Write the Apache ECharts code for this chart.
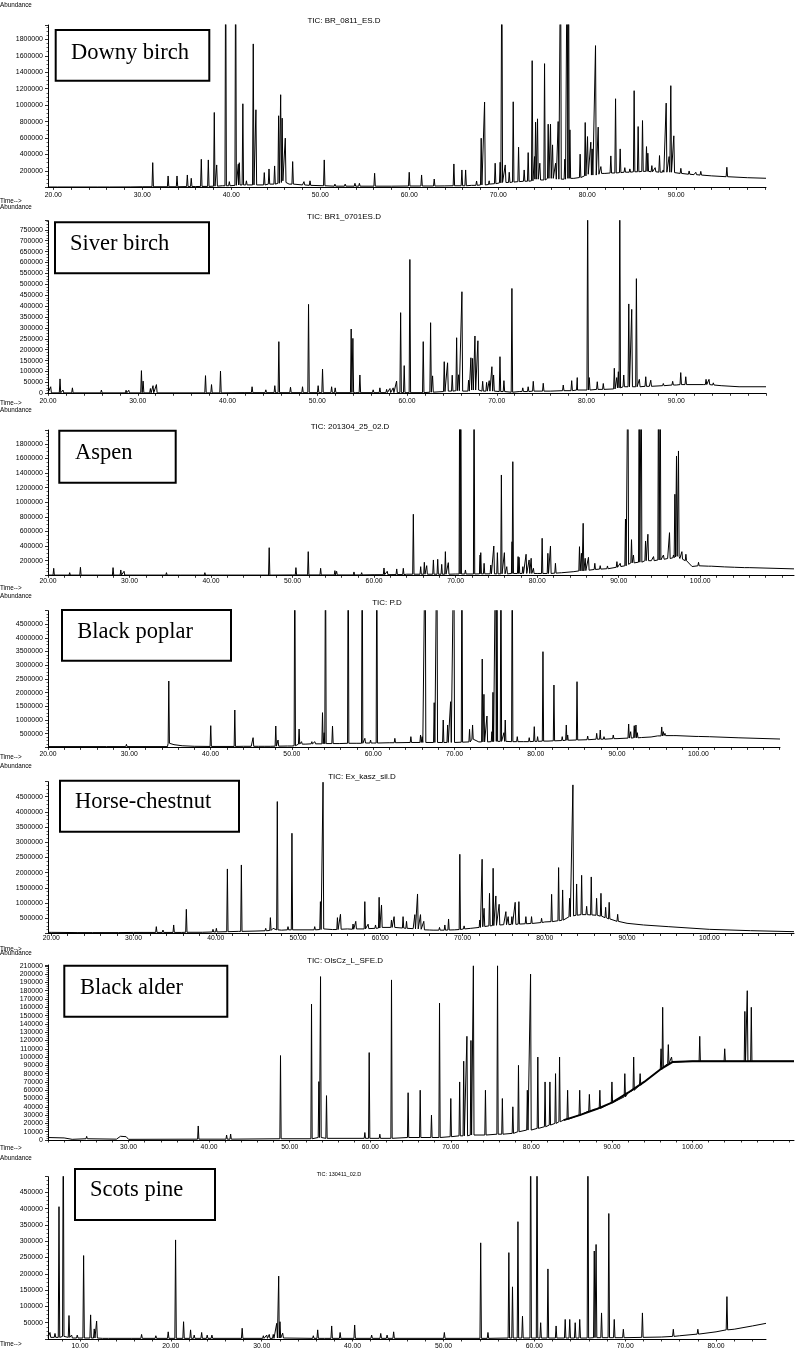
<!DOCTYPE html>
<html>
<head>
<meta charset="utf-8">
<script src="https://cdn.jsdelivr.net/npm/echarts@6/dist/echarts.min.js"></script>
<style>
html, body { margin: 0; padding: 0; background: #fff; }
#container { width: 796px; height: 1350px; }
</style>
</head>
<body>
<div id="container"></div>
<script>
// peaks are [time, top, foot], base lines are [time, abundance]

//Downy birch
var downyTimes = [20, 30, 40, 50, 60, 70, 80, 90];
var downyBase = [[19.4,5000],[25,5000],[30,8000],[36,10000],[39,20000],[42,30000],[44,35000],[46.5,40000],[48,30000],[52,15000],[58,15000],[64,18000],[67,25000],[69,40000],[71,60000],[73,75000],[76,95000],[78.5,110000],[79.5,130000],[81.5,165000],[84,180000],[86,190000],[88.5,185000],[90,175000],[92,155000],[94,140000],[96,128000],[98,118000],[100.1,111000]];
var downyPeaks = [[20.56,15000,5000],[26.4,12000,5000],[28.8,18000,6000],[31.17,301000,8000],[32.9,139000,8000],[33.9,139000,8000],[35.06,151000,10000],[35.5,111000,10000],[36.63,342000,12000],[37.42,334000,12000],[38.09,911000,15000],[38.36,273000,15000],[39.37,3000000,20000],[39.78,70000,20000],[40.49,3000000,25000],[40.79,282000,30000],[40.9,300000,30000],[41.3,1017000,30000],[41.7,80000,30000],[42.47,1745000,30000],[42.77,944000,30000],[43.71,180000,30000],[44.24,224000,40000],[44.87,261000,40000],[45.32,871000,50000],[45.55,1127000,60000],[45.72,842000,80000],[46.07,599000,60000],[46.9,314000,40000],[48.17,70000,30000],[48.85,80000,25000],[50.45,334000,20000],[51.65,40000,15000],[52.8,40000,15000],[53.9,50000,15000],[54.4,50000,15000],[56.11,172000,15000],
  [60.0,184000,17000],[61.39,151000,17000],[62.81,102000,17000],[65.02,285000,20000],[65.92,212000,20000],[66.34,212000,20000],[67.57,78000,25000],[68.09,598000,30000],[68.47,1038000,30000],[68.99,80000,35000],[69.66,294000,45000],[70.22,306000,55000],[70.41,3000000,60000],[70.79,273000,60000],[71.24,184000,60000],[71.69,1041000,65000],[72.29,489000,70000],[72.92,212000,75000],[73.37,423000,75000],[73.82,1541000,80000],[74.09,375000,100000],[74.2,794000,100000],[74.42,834000,100000],[74.68,294000,90000],[75.21,1505000,90000],[75.62,769000,110000],[75.88,769000,110000],[76.11,517000,110000],[76.45,294000,100000],[76.74,801000,100000],[77.01,3000000,100000],[77.49,343000,100000],[77.75,3000000,110000],[77.91,3000000,110000],[78.06,700000,110000],[79.21,404000,120000],[79.78,789000,140000],[80.04,618000,160000],[80.41,550000,150000],[80.56,468000,150000],[80.94,1724000,150000],[81.24,733000,160000],[81.54,253000,170000],[82.07,184000,170000],[82.66,383000,175000],[83.19,1078000,175000],[83.71,468000,180000],[84.23,240000,185000],[84.8,225000,185000],[85.28,1176000,190000],[85.73,740000,190000],[86.22,813000,195000],[86.67,496000,195000],[86.82,416000,195000],[87.27,265000,190000],[87.64,240000,190000],[88.13,387000,185000],[88.54,212000,185000],[88.88,1025000,185000],[89.21,375000,185000],[89.4,1237000,185000],[89.74,627000,180000],[90.53,232000,170000],[91.46,200000,160000],[92.21,184000,155000],[92.77,195000,150000],[95.7,245000,130000]];

//Siver birch
var silverTimes = [20, 30, 40, 50, 60, 70, 80, 90];
var silverBase = [[20,2000],[60,3000],[62,5000],[65,10000],[68,10000],[71,5000],[72.5,8000],[76,10000],[79,15000],[82,18000],[84,28000],[87,32000],[90,38000],[93,40000],[95,35000],[97,30000],[100,30000]];
var silverPeaks = [[20.3,30000,2000],[21.34,66000,2000],[21.67,15000,2000],[22.72,25000,2000],[25.95,15000,2000],[28.7,14000,2000],[29.0,14000,2000],[30.41,104000,2000],[30.6,56000,2000],[31.41,22000,2000],[31.7,35000,2000],[32.08,40000,2000],[34.68,8000,2000],[37.55,81000,2000],[38.22,40000,2000],[39.22,102000,2000],[41.93,12000,3000],[42.74,30000,3000],[44.27,16000,3000],[45.27,35000,3000],[45.72,237000,3000],[47.02,28000,3000],[48.36,30000,3000],[49.03,408000,3000],[50.1,35000,3000],[50.59,111000,3000],[51.6,30000,3000],[52.0,25000,3000],[53.78,295000,3000],[53.97,252000,3000],[54.2,12000,3000],[54.75,84000,3000],[56.23,16000,3000],[56.98,25000,3000],[57.73,18000,3000],[58.1,22000,3000],[58.46,25000,3000],[58.84,56000,3000],[59.29,370000,3000],[59.69,127000,3000],[60.32,614000,3000],[61.81,237000,3000],[62.63,324000,5000],[62.85,80000,5000],[64.15,145000,8000],[64.52,140000,10000],[65.04,83000,10000],[65.53,255000,12000],[65.75,85000,12000],[66.12,466000,10000],[66.86,60000,10000],[67.12,163000,15000],[67.31,160000,15000],[67.57,263000,15000],[67.9,241000,15000],[68.43,55000,10000],[68.87,50000,10000],[69.16,58000,10000],[69.46,122000,10000],[69.65,84000,10000],[70.36,168000,8000],[70.8,58000,8000],[71.69,481000,5000],[72.9,25000,8000],[73.5,30000,8000],[74.07,55000,10000],[75.18,46000,10000],[77.41,38000,12000],[78.35,58000,12000],[78.97,72000,15000],[80.13,900000,15000],[80.31,72000,15000],[81.2,53000,18000],[81.87,45000,18000],[83.1,115000,20000],[83.37,72000,25000],[83.55,99000,25000],[83.71,900000,25000],[84.15,84000,30000],[84.71,410000,30000],[85.04,385000,30000],[85.56,526000,30000],[85.89,64000,30000],[86.6,76000,32000],[87.16,60000,32000],[88.56,45000,35000],[89.6,55000,38000],[90.5,95000,40000],[91.06,76000,40000],[93.32,64000,40000],[93.65,64000,40000],[94.13,48000,38000]];

//Aspen
var aspenTimes = [20, 30, 40, 50, 60, 70, 80, 90, 100];
var aspenBase = [[20,3000],[50,5000],[60,8000],[64,15000],[70,18000],[80,25000],[83,35000],[84.5,50000],[86,70000],[88,90000],[90,120000],[91.5,170000],[94,200000],[96,230000],[97.5,230000],[98.5,180000],[99,120000],[101,125000],[103,115000],[106,105000],[111.5,88000]];
var aspenPeaks = [[20.7,96000,3000],[22.66,36000,3000],[23.98,110000,3000],[27.98,105000,3000],[28.93,73000,3000],[29.33,55000,3000],[34.53,36000,3000],[36.37,27000,3000],[39.24,36000,3000],[44.23,23000,3000],[47.13,378000,3000],[50.41,105000,5000],[51.92,324000,5000],[53.44,96000,5000],[55.19,64000,5000],[55.4,55000,5000],[57.53,46000,5000],[58.47,36000,5000],[61.21,100000,8000],[61.61,55000,8000],[62.77,87000,10000],[63.58,96000,10000],[64.81,836000,15000],[65.71,118000,15000],[66.16,178000,15000],[66.45,132000,15000],[67.27,210000,15000],[67.8,219000,15000],[68.29,150000,15000],[68.74,324000,15000],[69.1,173000,15000],[70.5,3000000,18000],[70.63,3000000,18000],[71.2,73000,18000],[72.26,3000000,18000],[73.0,278000,20000],[73.08,310000,20000],[73.49,164000,20000],[74.31,141000,20000],[74.68,401000,20000],[75.12,310000,20000],[75.61,1374000,20000],[75.98,310000,20000],[76.27,118000,20000],[76.92,460000,25000],[77.01,1556000,25000],[77.66,256000,25000],[77.78,246000,25000],[78.24,118000,25000],[78.64,288000,25000],[79.01,210000,25000],[79.26,233000,25000],[79.54,96000,25000],[80.61,507000,25000],[81.31,301000,25000],[81.63,401000,25000],[82.24,164000,30000],[85.19,392000,60000],[85.43,301000,60000],[85.64,712000,60000],[85.89,233000,65000],[86.29,246000,70000],[87.07,164000,80000],[87.73,132000,85000],[88.62,128000,90000],[89.78,187000,110000],[90.18,164000,120000],[90.83,771000,130000],[91.13,3000000,150000],[91.57,488000,170000],[91.81,278000,170000],[92.51,3000000,180000],[92.76,3000000,180000],[93.29,470000,200000],[93.58,562000,200000],[94.27,256000,200000],[94.88,3000000,210000],[95.09,3000000,210000],[95.49,278000,220000],[96.23,584000,230000],[96.72,278000,240000],[96.89,1110000,250000],[97.09,1634000,260000],[97.33,1703000,260000],[97.75,324000,220000],[98.24,288000,200000],[99.79,178000,130000],[101.43,141000,125000],[104.3,114000,110000],[105.53,132000,105000]];

//Black poplar
var poplarTimes = [20, 30, 40, 50, 60, 70, 80, 90, 100];
var poplarBase = [[20,30000],[34.7,30000],[35.5,100000],[36.5,60000],[38,40000],[45,40000],[50,50000],[51,130000],[55,140000],[58,150000],[62,170000],[66,180000],[71,190000],[73,200000],[78,210000],[80,220000],[84,260000],[88,300000],[90,320000],[93,360000],[95,420000],[97,430000],[100,400000],[105,350000],[110.05,306000]];
var poplarPeaks = [[27.3,40000,30000],[29.65,113000,30000],[34.86,2423000,150000],[40.02,793000,35000],[42.98,1365000,35000],[44.12,113000,40000],[45.23,355000,40000],[45.97,88000,40000],[46.67,88000,40000],[47.41,112000,40000],[48.02,781000,45000],[48.3,270000,45000],[49.54,88000,50000],[50.36,8000000,60000],[50.89,671000,120000],[51.19,209000,120000],[51.8,185000,120000],[52.46,209000,130000],[52.83,209000,130000],[53.77,1268000,130000],[53.97,537000,130000],[54.14,8000000,140000],[55.0,781000,140000],[55.9,88000,140000],[56.93,8000000,150000],[57.14,209000,150000],[58.65,8000000,150000],[58.98,331000,160000],[59.68,270000,160000],[60.0,185000,160000],[60.45,8000000,160000],[62.05,185000,170000],[62.67,331000,170000],[64.64,392000,180000],[65.83,453000,180000],[66.03,392000,180000],[66.4,8000000,180000],[67.51,1632000,180000],[67.84,8000000,180000],[68.62,1000000,180000],[69.16,818000,180000],[69.53,1668000,180000],[69.93,8000000,180000],[70.92,8000000,190000],[71.86,659000,200000],[72.23,818000,300000],[73.42,3226000,200000],[73.63,1937000,200000],[74.0,1146000,200000],[74.61,574000,210000],[74.74,2010000,210000],[75.07,8000000,220000],[75.23,8000000,220000],[75.72,8000000,220000],[76.09,537000,220000],[76.25,1000000,220000],[77.11,8000000,210000],[77.73,392000,210000],[78.55,270000,210000],[79.2,355000,210000],[79.82,757000,220000],[80.23,392000,220000],[80.89,3494000,230000],[81.59,270000,230000],[82.24,2277000,240000],[83.26,392000,250000],[83.76,818000,260000],[83.93,453000,260000],[85.08,2399000,270000],[86.39,416000,280000],[87.5,513000,300000],[87.94,635000,300000],[88.4,392000,300000],[89.54,453000,320000],[91.43,854000,340000],[91.68,574000,340000],[92.12,793000,350000],[92.33,818000,350000],[92.5,537000,350000],[94.27,416000,380000],[95.5,746000,420000],[95.7,574000,430000],[95.9,513000,430000],[97.34,489000,430000],[99.8,428000,400000],[101.44,428000,390000]];

//Horse-chestnut
var horseTimes = [20, 30, 40, 50, 60, 70, 80, 90, 100];
var horseBase = [[19.6,38000],[30,35000],[40,50000],[45,80000],[48,110000],[52,120000],[56,150000],[60,200000],[62,200000],[64,160000],[66,115000],[69,120000],[71,170000],[72.5,225000],[75,290000],[78,320000],[80,380000],[82,430000],[83,550000],[85,620000],[86.8,580000],[88,480000],[89,400000],[90,335000],[92,280000],[95,225000],[100,137000],[105,93000],[110.3,60000]];
var horsePeaks = [[20.07,82000,38000],[23.32,38000,30000],[25.06,35000,30000],[28.22,71000,30000],[32.77,225000,35000],[33.58,115000,35000],[34.88,280000,35000],[35.94,80000,35000],[36.42,795000,40000],[38.44,60000,40000],[39.66,137000,50000],[40.07,170000,50000],[41.41,2122000,60000],[42.82,80000,70000],[43.11,2253000,70000],[44.85,90000,80000],[46.07,170000,90000],[46.64,521000,100000],[46.96,170000,110000],[47.48,4337000,120000],[48.09,170000,120000],[48.78,225000,120000],[49.26,3295000,120000],[52.03,225000,120000],[52.72,1047000,130000],[53.04,4973000,150000],[54.26,140000,130000],[54.79,521000,130000],[55.16,631000,140000],[56.69,312000,140000],[57.02,400000,150000],[58.12,1047000,150000],[58.52,307000,160000],[59.42,280000,170000],[59.86,1190000,180000],[60.15,937000,200000],[61.36,444000,200000],[61.68,554000,200000],[62.77,554000,180000],[63.19,400000,170000],[64.2,620000,150000],[64.53,1299000,150000],[64.89,620000,140000],[65.29,400000,120000],[66.5,170000,110000],[67.2,200000,110000],[67.85,280000,110000],[68.3,477000,115000],[69.67,2604000,130000],[70.19,250000,150000],[72.1,444000,200000],[72.38,2440000,220000],[72.62,828000,230000],[73.28,1321000,250000],[73.72,2144000,260000],[74.05,1234000,270000],[74.45,960000,280000],[75.27,718000,290000],[75.55,554000,290000],[76.0,554000,300000],[76.4,1025000,300000],[76.85,1047000,310000],[77.7,554000,320000],[78.39,554000,330000],[79.61,500000,360000],[80.83,1288000,390000],[81.68,2166000,420000],[82.17,1431000,440000],[83.02,1157000,550000],[83.42,4885000,580000],[83.87,1628000,600000],[84.48,1913000,620000],[85.09,894000,620000],[85.65,1859000,610000],[86.3,1157000,600000],[86.83,1321000,570000],[87.4,861000,520000],[87.83,1025000,480000],[88.86,631000,400000]];

//Black alder
var alderTimes = [30, 40, 50, 60, 70, 80, 90, 100];
var alderBase = [[20,3000],[22,2500],[23,800],[28.5,1000],[29,4500],[29.7,4000],[30,800],[60,1500],[70,4000],[76,7000],[80,13000],[82,18000],[84,24000],[86,30000],[88,37000],[90,45000],[92,57000],[94,70000],[96,85000],[97.5,94000],[100,95000],[105,95000],[108,95000],[112.6,95000]];
var alderPeaks = [[24.8,4400,1500],[38.65,16900,1000],[42.17,6000,1000],[42.67,7200,1000],[48.86,101800,1500],[52.71,163800,1500],[53.62,70400,3000],[53.83,197000,3000],[54.57,53500,2000],[59.33,9000,2000],[59.87,105400,2000],[61.19,7000,2000],[62.64,193000,2000],[64.7,57000,3000],[66.2,60000,3000],[67.6,30000,3000],[68.6,165000,3000],[70.0,50000,4000],[71.1,70000,5000],[71.6,95000,5000],[72.0,125000,5000],[72.5,120000,6000],[72.8,210000,6000],[74.3,60000,6000],[75.8,210000,7000],[76.4,50000,7000],[77.7,40000,8000],[78.4,90000,10000],[79.5,60000,12000],[79.9,200000,12000],[80.8,100000,14000],[81.7,70000,16000],[82.3,70000,18000],[83.0,80000,20000],[83.5,100000,22000],[84.5,60000,25000],[86.0,60000,30000],[87.2,55000,35000],[88.5,60000,38000],[90.0,70000,45000],[91.6,80000,52000],[92.7,100000,60000],[93.5,80000,66000],[96.1,110000,85000],[96.3,160000,88000],[97.0,115000,92000],[97.4,100000,94000],[100.9,125000,95000],[104.0,110000,95000],[106.5,155000,95000],[106.8,180000,95000],[107.3,160000,95000]];

//Scots pine
var pineTimes = [10, 20, 30, 40, 50, 60, 70, 80];
var pineBase = [[6.48,5000],[9,3000],[12,2000],[45,2000],[70,4000],[74,6000],[76,10000],[78,15000],[80,22000],[82,30000],[84,40000],[85.5,48000]];
var pinePeaks = [[6.7,20000,5000],[7.25,17000,5000],[7.69,406000,5000],[8.16,700000,8000],[8.79,72000,5000],[9.08,12000,3000],[9.7,12000,3000],[10.4,256000,3000],[11.17,74000,3000],[11.57,31000,3000],[11.83,55000,3000],[12.56,8000,2000],[13.22,8000,2000],[15.79,8000,2000],[16.78,14000,2000],[18.35,10000,2000],[19.71,22000,2000],[20.52,304000,2000],[21.4,53000,2000],[22.17,28000,2000],[22.57,12000,2000],[23.39,20000,2000],[24.0,12000,2000],[24.52,12000,2000],[27.85,33000,2000],[30.18,10000,2000],[30.55,12000,2000],[30.83,14000,2000],[31.27,14000,2000],[31.65,48000,3000],[31.87,193000,3000],[32.01,53000,3000],[32.31,18000,3000],[35.68,10000,2000],[36.16,28000,2000],[36.97,8000,2000],[37.7,40000,2000],[38.63,20000,2000],[40.23,43000,2000],[42.1,12000,2000],[43.1,17000,2000],[43.8,12000,2000],[44.52,22000,2000],[50.1,20000,2000],[54.1,295000,2000],[54.9,20000,2000],[57.2,265000,3000],[57.6,160000,3000],[58.2,360000,3000],[58.7,70000,3000],[59.6,700000,3000],[60.3,700000,3000],[60.7,50000,3000],[61.5,215000,3000],[62.4,40000,3000],[63.4,60000,3000],[63.9,60000,3000],[64.5,50000,3000],[65.0,60000,3000],[65.9,700000,3000],[66.6,270000,4000],[66.8,290000,4000],[67.4,80000,4000],[68.2,385000,4000],[68.8,60000,4000],[69.8,30000,4000],[71.9,80000,5000],[75.3,30000,8000],[78.0,30000,15000],[81.2,130000,28000]];

var dom = document.getElementById('container');
var myChart = echarts.init(dom, null, { renderer: 'canvas' });

function trace(peaks, base) {
    var pts = base.slice();
    peaks.forEach(function (p) {
        pts.push([p[0] - 0.08, p[2]], [p[0], p[1]], [p[0] + 0.08, p[2]]);
    });
    pts.sort(function (a, b) { return a[0] - b[0]; });
    return pts;
}

var panels = [
    { name: 'Downy birch', tic: 'TIC: BR_0811_ES.D', peaks: downyPeaks, base: downyBase, times: downyTimes,
      xMin: 19.4, xMax: 100.1, yMax: 1975000, yStep: 200000, zero: false,
      top: 25, height: 162.4, width: 718, labelMargin: 4,
      box: [55.7, 30, 153.6, 50.7], textX: 71, textY: 52.6, ticX: 344, ticY: 21, ticSize: 8, abY: 5, timeY: 201 },
    { name: 'Siver birch', tic: 'TIC: BR1_0701ES.D', peaks: silverPeaks, base: silverBase, times: silverTimes,
      xMin: 20, xMax: 100, yMax: 792000, yStep: 50000, zero: true,
      top: 220.7, height: 172.6, width: 718, labelMargin: 4,
      box: [55, 222.3, 154, 51], textX: 70, textY: 244.3, ticX: 344, ticY: 217, ticSize: 8, abY: 207, timeY: 403 },
    { name: 'Aspen', tic: 'TIC: 201304_25_02.D', peaks: aspenPeaks, base: aspenBase, times: aspenTimes,
      xMin: 20, xMax: 111.5, yMax: 1990000, yStep: 200000, zero: false,
      top: 430, height: 145.3, width: 746, labelMargin: 2,
      box: [59.3, 430.7, 116.4, 52], textX: 75, textY: 452.6, ticX: 350, ticY: 427, ticSize: 8, abY: 410, timeY: 588 },
    { name: 'Black poplar', tic: 'TIC: P.D', peaks: poplarPeaks, base: poplarBase, times: poplarTimes,
      xMin: 20, xMax: 110.05, yMax: 4990000, yStep: 500000, zero: false,
      top: 610.7, height: 136.7, width: 732, labelMargin: 3,
      box: [62, 610, 169, 50.7], textX: 77.3, textY: 631.9, ticX: 387, ticY: 603, ticSize: 8, abY: 596, timeY: 757 },
    { name: 'Horse-chestnut', tic: 'TIC: Ex_kasz_sil.D', peaks: horsePeaks, base: horseBase, times: horseTimes,
      xMin: 19.6, xMax: 110.3, yMax: 4990000, yStep: 500000, zero: false,
      top: 781.7, height: 151.8, width: 746, labelMargin: 1,
      box: [60, 780.7, 179, 51], textX: 75, textY: 801.9, ticX: 362, ticY: 777, ticSize: 8, abY: 766, timeY: 949 },
    { name: 'Black alder', tic: 'TIC: OlsCz_L_SFE.D', peaks: alderPeaks, base: alderBase, times: alderTimes,
      xMin: 20, xMax: 112.6, yMax: 211000, yStep: 10000, zero: true,
      top: 965, height: 175, width: 746, labelMargin: 4,
      box: [64.3, 965.7, 163, 51], textX: 80, textY: 987.6, ticX: 345, ticY: 961, ticSize: 8, abY: 953, timeY: 1148 },
    { name: 'Scots pine', tic: 'TIC: 130411_02.D', peaks: pinePeaks, base: pineBase, times: pineTimes,
      xMin: 6.48, xMax: 85.5, yMax: 498000, yStep: 50000, zero: false,
      top: 1176.7, height: 162.3, width: 718, labelMargin: 3.5,
      box: [75, 1169, 140, 51], textX: 90, textY: 1190.3, ticX: 339, ticY: 1174, ticSize: 5.5, abY: 1158, timeY: 1344 }
];

var sans = 'Liberation Sans';
var grids = [], xAxes = [], yAxes = [], series = [], graphics = [];

panels.forEach(function (p, i) {
    grids.push({ left: 48, top: p.top, width: p.width, height: p.height });

    var ticks = [];
    for (var t = Math.ceil(p.xMin / 2) * 2; t <= p.xMax; t += 2) ticks.push(t);

    xAxes.push({
        type: 'value', gridIndex: i, min: p.xMin, max: p.xMax,
        axisLine: { onZero: false, lineStyle: { color: '#000', width: 1 } },
        axisTick: { show: true, customValues: ticks, length: 2.5, lineStyle: { color: '#000', width: 0.8 } },
        axisLabel: { customValues: p.times, margin: p.labelMargin, fontSize: 6.8, fontFamily: sans, color: '#000',
            formatter: function (v) { return v.toFixed(2); } },
        splitLine: { show: false }
    });
    yAxes.push({
        type: 'value', gridIndex: i, min: 0, max: p.yMax, interval: p.yStep,
        axisLine: { show: true, lineStyle: { color: '#000', width: 1 } },
        axisTick: { show: true, length: 3, lineStyle: { color: '#000', width: 0.8 } },
        minorTick: { show: true, splitNumber: 4, length: 1.5, lineStyle: { color: '#000', width: 0.6 } },
        axisLabel: { showMinLabel: p.zero, showMaxLabel: false, margin: 5, fontSize: 7, fontFamily: sans, color: '#000',
            formatter: function (v) { return String(v); } },
        splitLine: { show: false }
    });
    series.push({
        type: 'line', xAxisIndex: i, yAxisIndex: i,
        data: trace(p.peaks, p.base),
        symbol: 'none', showSymbol: false, clip: true, silent: true,
        lineStyle: { color: '#000', width: 1 }
    });

    graphics.push(
        { type: 'rect', z: 100, shape: { x: p.box[0], y: p.box[1], width: p.box[2], height: p.box[3] },
          style: { fill: '#fff', stroke: '#000', lineWidth: 2 } },
        { type: 'text', z: 101, style: { text: p.name, x: p.textX, y: p.textY, fill: '#000',
          font: '22.5px "Liberation Serif"', align: 'left', verticalAlign: 'middle', textAlign: 'left', textVerticalAlign: 'middle' } },
        { type: 'text', z: 101, style: { text: p.tic, x: p.ticX, y: p.ticY, fill: '#000',
          font: p.ticSize + 'px "' + sans + '"', align: 'center', verticalAlign: 'middle', textAlign: 'center', textVerticalAlign: 'middle' } },
        { type: 'text', z: 101, style: { text: 'Abundance', x: 0, y: p.abY, fill: '#000',
          font: '6.3px "' + sans + '"', align: 'left', verticalAlign: 'middle', textAlign: 'left', textVerticalAlign: 'middle' } },
        { type: 'text', z: 101, style: { text: 'Time-->', x: 0, y: p.timeY, fill: '#000',
          font: '6.3px "' + sans + '"', align: 'left', verticalAlign: 'middle', textAlign: 'left', textVerticalAlign: 'middle' } }
    );
});

// noisy thick baseline of the alder run
series.push({
    type: 'line', xAxisIndex: 5, yAxisIndex: 5,
    data: alderBase.filter(function (d) { return d[0] >= 84; }),
    symbol: 'none', showSymbol: false, silent: true,
    lineStyle: { color: '#000', width: 2 }
});

var option = {
    backgroundColor: '#fff',
    animation: false,
    grid: grids,
    xAxis: xAxes,
    yAxis: yAxes,
    series: series,
    graphic: graphics
};

myChart.setOption(option);
window.addEventListener('resize', myChart.resize);
</script>
</body>
</html>
